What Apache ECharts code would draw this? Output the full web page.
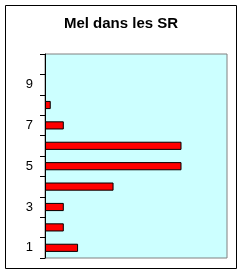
<!DOCTYPE html>
<html>
<head>
<meta charset="utf-8">
<script src="https://cdn.jsdelivr.net/npm/echarts@6/dist/echarts.min.js"></script>
<style>
  html, body { margin: 0; padding: 0; background: #fff; }
  #chart { width: 242px; height: 274px; }
</style>
</head>
<body>
<div id="chart"></div>
<script>
// categories from bottom (1) to top (10)
const categories = ['1', '2', '3', '4', '5', '6', '7', '8', '9', '10'];
// estimated bar lengths, no scale shown on the chart
const values = [5.45, 3.1, 3.1, 11.3, 22.5, 22.5, 3.1, 0.95, 0, 0];
const xMax = 30;

const chart = echarts.init(document.getElementById('chart'), null, { renderer: 'canvas' });

chart.setOption({
  animation: false,
  title: {
    text: 'Mel dans les SR',
    left: 'center',
    top: 16,
    padding: 0,
    textStyle: { fontFamily: 'Liberation Sans, Arial', fontSize: 15, fontWeight: 'bold', color: '#000' }
  },
  grid: {
    left: 45, right: 15, top: 54, bottom: 16,
    show: true,
    backgroundColor: '#CCFFFF',
    borderColor: '#808080',
    borderWidth: 1
  },
  xAxis: {
    type: 'value',
    min: 0,
    max: xMax,
    axisLine: { show: false },
    axisTick: { show: false },
    axisLabel: { show: false },
    splitLine: { show: false }
  },
  yAxis: {
    type: 'category',
    data: categories,
    axisLine: { show: true, lineStyle: { color: '#000', width: 1 } },
    axisTick: { show: true, length: 5, interval: 0, alignWithLabel: false, lineStyle: { color: '#000' } },
    axisLabel: {
      interval: 1,
      margin: 12,
      fontFamily: 'Liberation Sans, Arial',
      fontSize: 13,
      color: '#000'
    },
    splitLine: { show: false }
  },
  series: [{
    type: 'bar',
    // empty categories get no bar at all
    data: values.map(v => (v === 0 ? '-' : v)),
    barWidth: '40%',
    itemStyle: { color: '#FF0000', borderColor: '#000', borderWidth: 1 }
  }],
  graphic: [{
    type: 'rect',
    shape: { x: 5.5, y: 5.5, width: 231, height: 263 },
    style: { fill: 'none', stroke: '#000', lineWidth: 1 },
    silent: true
  }]
});
</script>
</body>
</html>
